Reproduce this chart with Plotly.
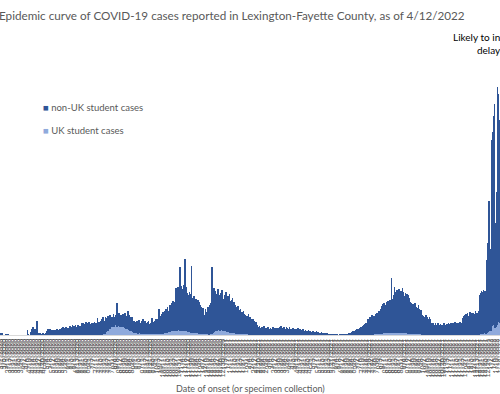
import pandas as pd
import plotly.graph_objects as go

# ---- data (daily cases, stacked) ----
start_date = "2020-03-01"

total_s = [
    [8,4,9,3,0,0,0,0,4,0,3,0,0,0,0,0,0,0,0,0,0,0,0,0,0,0,0,0,0,0,0,0,0,0,0,0,0],
    [23,5,0,0,0,15,28,12,38,22,30,10,18,70,8,5,6,4,7,5,3,6,8,4,5,7,6,22,28,14,25,30,18,24,20,27],
    [18,26,14,24,21,29,16,23,19,31,24,33,20,38,27,22,35,41,25,30,36,28,44,
     35,42,30,48,38,45,33,50,40,36,52,44,39,47,45,58,40,62,50,55,48,66,52,60,47,63,57,54,
     50,62,48,58,52,65,55,60,50,85,58,64,60],
    [70,62,80,75,88,68,72,90,78,85,95,70,82,100,88,76,92,84,105,90,80,98,86,160],
    [85,95,110,78,100,92,88,105,98,82,108,90,95,84,120,100,86,92,78,88,80],
    [60,72,55,48,65,70,58,52,75,62,50,45,68,80,55,60,72,50,46,58,64,70,55,48,62,75,85,58,66,52,70,78,60,82,72],
    [130,80,95,70,105,88,115,92,78,120,130,100,140,118,105,150,135,125,160,145,170,138,165],
    [220,235,210,240,225,230,340,215,245,230,220,250,235,380,240,225,210],
    [200,190,215,180,205,345,185,170,195,175,165,180,160,170,175,150,165],
    [150,140,125,110,135,100,95,130,115,90,140,120,105,150,130,160,340],
    [200,180,235,220,190,205,175,230,215,200,185,210,195,225,180,170,200,190,215,185,165,195,180,205,170,160,175,185,150,165,140],
    [150,135,140,120,145,110,125,130,100,115,95,120,105,90,100,85,95,80,105,75,88,70,82,65,78,60,72,58,65,55],
    [50,42,38,45,30,35,40,28,33,45,25,30,36,22,28,40,32,26,35,30,24,38,42,28,33,25,30,36,22,27,
     34,40,45,30,26,35,28,38,24,30,42,35,28,32,40,25,30,22,28,35,30,26,20,32,24,28,36,22,30],
    [28,20,25,18,30,22,16,24,20,14,22,26,18,15,20,12,17,22,14,10,16,12,18,9,13,15,8,12,10,14,7,11,9,6,10,8,5],
    [6,3,4,0,2,5,1,3,0,4,2,0,3,1,2,0,0,3,1,0,2,4,0,1,3,0,2,5,3,6,4,8],
    [10,14,12,18,15,20,22,25,18,28,30,26,35,32,40,38,45,42,50,48,55,60,52],
    [70,80,65,90,75,85,100,78,88,95,72,105,90,110,98,85,120,105],
    [130,145,125,155,140,160,135,150,165,140,170,150,155,175,160,285,165],
    [180,200,240,215,195,225,205,185,230,210,190,220,200,235,215,195,175,210,190,205,180,200,185],
    [165,150,160,140,155,130,145,160,125,140,135,120,150,130,115,125,110],
    [100,95,85,90,80,98,75,88,82,78,92,80],
    [60,55,48,62,50,45,58,52,40,55,60,48,42,56,50,38,52,46,58,44,40,50,55,47,62,53,45,58,50,43,
     60,55,48,65,52,46,58,62,50,56,64,52,60,58],
    [85,95,80,100,105,90,110,95,88,115,100,92,108,98,112,90,105,120,95,110,100,118,102],
    [200,210,220,205,215,225,210,220,110,105,375,460,670,640,415,430,645,970,1010,1090,1150,
     535,560,710,1235,1200,1070,1040],
]

uk_s = [
    [0,0,0,0,0,0,0,0,0,0,0,0,0,0,0,0,0,0,0,0,0,0,0,0,0,0,0,0,0,0,0,0,0,0,0,0,0],
    [0,0,0,0,0,0,0,0,0,0,0,0,0,0,0,0,0,0,0,0,0,0,0,0,0,0,0,0,0,0,0,0,0,0,0,0],
    [0,0,0,0,0,0,0,0,0,0,0,0,0,0,0,0,0,0,0,0,0,0,0,0,0,0,0,0,0,0,0,0,0,0,0,0,0,0,0,0,
     0,0,0,0,0,0,0,0,0,0,0,0,0,0,0,0,0,0,0,0,0,0,0,0],
    [0,0,0,2,5,8,6,12,15,20,18,25,30,28,35,40,38,45,50,42,48,55,45,40],
    [45,50,55,40,48,44,38,42,40,35,38,30,32,28,30,26,22,24,18,20,15],
    [14,12,10,9,11,10,8,7,9,8,6,5,7,8,6,5,6,4,5,4,6,5,4,3,5,4,6,4,3,4,5,3,4,3,4],
    [4,5,6,4,7,8,6,10,9,12,10,14,12,15,18,16,20,22,18,25,20,24,22],
    [25,28,22,30,26,24,20,28,25,22,26,24,20,18,22,20,18],
    [16,18,15,14,12,15,13,12,10,12,10,9,8,10,8,7,8],
    [6,5,4,5,4,3,3,4,3,3,4,3,2,3,3,4,5],
    [10,12,15,18,20,22,18,25,24,28,22,26,30,24,20,22,25,18,20,16,15,18,14,12,15,10,12,9,10,8,9],
    [8,7,6,8,5,6,5,4,6,4,5,3,4,4,3,4,3,3,2,3,2,3,2,2,1,2,1,2,1,1],
    [2,1,1,2,0,1,1,0,1,2,0,1,1,0,0,1,0,1,0,0,1,0,0,0,1,0,0,0,0,0,
     0,0,0,0,0,0,0,0,0,0,0,0,0,0,0,0,0,0,0,0,0,0,0,0,0,0,0,0,0],
    [0,0,0,0,0,0,0,0,0,0,0,0,0,0,0,0,0,0,0,0,0,0,0,0,0,0,0,0,0,0,0,0,0,0,0,0,0],
    [0,0,0,0,0,0,0,0,0,0,0,0,0,0,0,0,0,0,0,0,0,0,0,0,0,0,0,0,0,0,0,0],
    [0,0,0,0,0,0,0,0,0,0,0,0,0,0,0,0,0,0,0,0,0,0,0],
    [0,1,0,1,2,1,2,3,2,4,3,5,4,6,5,4,8,6],
    [8,10,7,12,9,11,8,10,12,9,14,11,10,13,12,15,11],
    [12,14,10,15,11,13,12,10,14,12,9,13,11,12,10,9,8,10,9,8,7,8,6],
    [6,7,5,6,5,4,6,5,4,5,3,4,5,3,4,3,2],
    [3,2,3,2,2,3,1,2,2,1,2,1],
    [2,1,2,1,1,2,1,1,0,1,1,2,1,1,0,1,1,0,1,1,0,1,1,0,1,1,0,1,0,1,
     1,0,1,1,0,1,0,1,1,0,1,1,0,1],
    [1,0,1,1,0,1,0,1,1,0,1,1,0,1,1,0,1,0,1,1,0,1,0],
    [5,6,8,6,7,8,10,9,6,5,12,15,22,25,18,20,30,45,50,55,60,35,38,50,70,75,65,60],
]

for i, (a, b) in enumerate(zip(total_s, uk_s)):
    assert len(a) == len(b), (i, len(a), len(b))

total = [v for seg in total_s for v in seg]
uk_cases = [v for seg in uk_s for v in seg]
non_uk_cases = [t - u for t, u in zip(total, uk_cases)]

dates = pd.date_range(start_date, periods=len(total), freq="D")
categories = [f"{d.month}/{d.day}/{d.year}" for d in dates]
tick_labels = categories[::4]

title_text = "Epidemic curve of COVID-19 cases reported in Lexington-Fayette County, as of 4/12/2022"
note_text = "Likely to increase<br>delays"
x_title = "Date of onset (or specimen collection)"

DARK = "#2F5597"
LIGHT = "#8FAADC"
GREY = "#595959"

fig = go.Figure()
fig.add_trace(go.Bar(x=categories, y=uk_cases, name="UK student cases",
                     marker=dict(color=LIGHT, line=dict(width=0))))
fig.add_trace(go.Bar(x=categories, y=non_uk_cases, name="non-UK student cases",
                     marker=dict(color=DARK, line=dict(width=0))))

PLOT_TOP = 60
PLOT_BOT = 335
H = PLOT_BOT - PLOT_TOP

def py(px):
    return (PLOT_BOT - px) / H

fig.update_layout(
    width=500, height=394,
    margin=dict(l=0, r=0, t=PLOT_TOP, b=394 - PLOT_BOT, pad=0),
    barmode="stack", bargap=0,
    showlegend=False,
    plot_bgcolor="white", paper_bgcolor="white",
    font=dict(family="Lato, 'Liberation Sans', sans-serif", color=GREY),
    xaxis=dict(type="category", range=[-0.5, len(categories) - 0.5],
               tickmode="array", tickvals=tick_labels, ticktext=tick_labels,
               tickangle=-90, tickfont=dict(size=7, color=GREY),
               showline=True, linecolor="#D9D9D9", linewidth=1,
               ticks="", showgrid=False, automargin=False, zeroline=False),
    yaxis=dict(range=[0, 1370], visible=False, showgrid=False, zeroline=False),
    annotations=[
        dict(text=title_text, xref="paper", yref="paper", x=-0.006, y=py(15),
             xanchor="left", yanchor="middle", showarrow=False,
             font=dict(size=11.7, color=GREY)),
        dict(text=note_text, xref="paper", yref="paper", x=0.98, y=py(43),
             xanchor="center", yanchor="middle", align="center", showarrow=False,
             font=dict(size=10, color="#000000")),
        dict(text=f"<span style='color:{DARK}'>■</span> non-UK student cases",
             xref="paper", yref="paper", x=0.082, y=py(107),
             xanchor="left", yanchor="middle", showarrow=False,
             font=dict(size=9.5, color=GREY)),
        dict(text=f"<span style='color:{LIGHT}'>■</span> UK student cases",
             xref="paper", yref="paper", x=0.082, y=py(130),
             xanchor="left", yanchor="middle", showarrow=False,
             font=dict(size=9.5, color=GREY)),
        dict(text=x_title, xref="paper", yref="paper", x=0.5, y=py(388),
             xanchor="center", yanchor="middle", showarrow=False,
             font=dict(size=9, color=GREY)),
    ],
)

fig.write_html("out.html",
               config={"displayModeBar": False},
               post_script="document.body.style.margin='0';document.body.style.overflow='hidden';")
